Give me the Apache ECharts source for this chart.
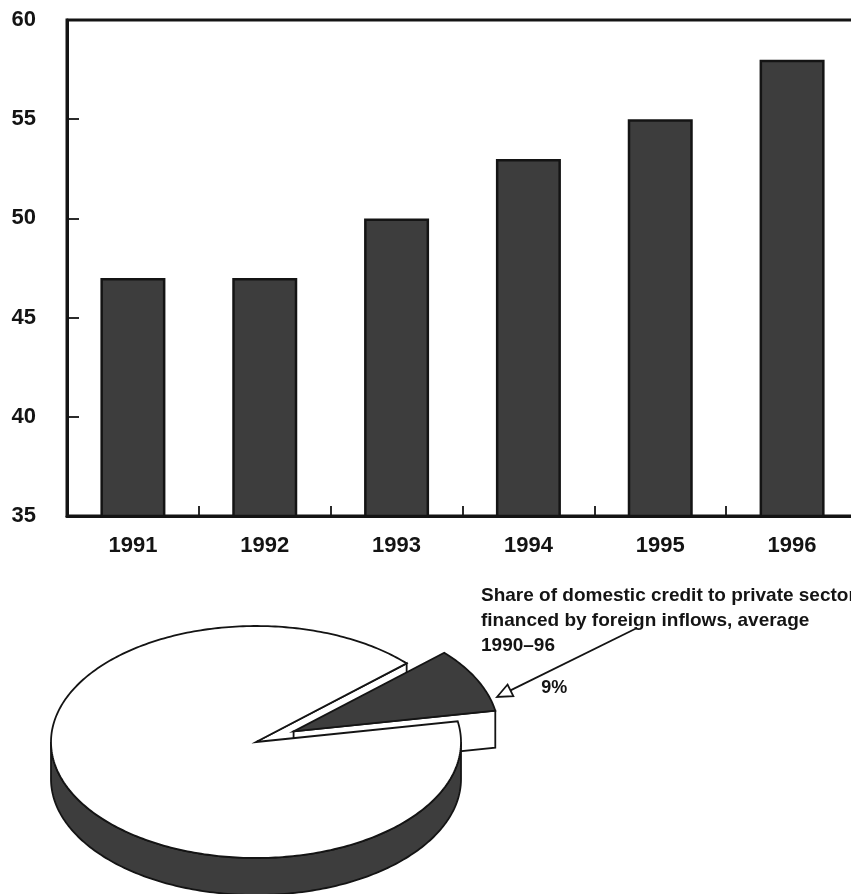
<!DOCTYPE html>
<html>
<head>
<meta charset="utf-8">
<script src="https://cdn.jsdelivr.net/npm/echarts@6/dist/echarts.min.js"></script>
<style>
  html, body { margin: 0; padding: 0; background: #fff; }
  #chart { width: 851px; height: 894px; }
</style>
</head>
<body>
<div id="chart"></div>
<script>
// ---- data ----
const years = ['1991', '1992', '1993', '1994', '1995', '1996'];
const barValues = [47, 47, 50, 53, 55, 58];
const yMin = 35;
const yMax = 60;
const yStep = 5;

const pieNames = ['Financed by foreign inflows', 'Other'];
const pieValues = [9, 91];

const noteLines = [
  'Share of domestic credit to private sector',
  'financed by foreign inflows, average',
  '1990\u201396'
];

// ---- styling ----
const INK = '#141414';
const DARK = '#3d3d3d';
const FONT = "'Liberation Sans', Arial, Helvetica, sans-serif";
const LW = 1.8;

// 3-D pie geometry (screen pixels)
const PIE = { cx: 256, cy: 742, rx: 205, ry: 116, depth: 37, explode: 42, start: 10.3 };
const EXPLODED = 0;
const RAD = Math.PI / 180;

const pieTotal = pieValues.reduce((s, v) => s + v, 0);
const pieSpans = [];
(function () {
  let acc = PIE.start;
  pieValues.forEach(v => {
    const sweep = v / pieTotal * 360;
    pieSpans.push([acc, acc + sweep]);
    acc += sweep;
  });
})();

function ellPt(deg, ox, oy, dz) {
  const r = deg * RAD;
  return [PIE.cx + ox + PIE.rx * Math.cos(r), PIE.cy + oy - PIE.ry * Math.sin(r) + (dz || 0)];
}
function ellArc(a, b, ox, oy, dz) {
  const pts = [];
  const n = Math.max(2, Math.ceil(Math.abs(b - a)));
  for (let i = 0; i <= n; i++) pts.push(ellPt(a + (b - a) * i / n, ox, oy, dz));
  return pts;
}

function renderPieSlice(params, api) {
  const i = params.dataIndex;
  const value = api.value(0);
  const [a, b] = pieSpans[i];
  const exploded = i === EXPLODED;
  const mid = (a + b) / 2 * RAD;
  const ox = exploded ? PIE.explode * Math.cos(mid) : 0;
  const oy = exploded ? -PIE.explode * (PIE.ry / PIE.rx) * Math.sin(mid) : 0;
  const C = [PIE.cx + ox, PIE.cy + oy];
  const D = PIE.depth;
  const zBase = exploded ? 2 : 5;
  const children = [];

  // radial cut faces that turn towards the viewer
  [[a, Math.cos(a * RAD) > 0], [b, Math.cos(b * RAD) < 0]].forEach(([ang, visible]) => {
    if (!visible) return;
    const P = ellPt(ang, ox, oy, 0);
    children.push({
      type: 'polygon', z2: exploded ? 2 : 1,
      shape: { points: [C, P, [P[0], P[1] + D], [C[0], C[1] + D]] },
      style: { fill: '#fff', stroke: INK, lineWidth: LW, lineJoin: 'miter' }
    });
  });

  // curved outer wall on the front half
  const s = Math.max(a, 180), e = Math.min(b, 360);
  if (e > s) {
    const top = ellArc(s, e, ox, oy, 0);
    const bot = ellArc(e, s, ox, oy, D);
    children.push({
      type: 'polygon', z2: zBase + 1,
      shape: { points: top.concat(bot) },
      style: { fill: DARK, stroke: INK, lineWidth: LW }
    });
  }

  // top face
  children.push({
    type: 'polygon', z2: zBase + 2,
    shape: { points: [C].concat(ellArc(a, b, ox, oy, 0)) },
    style: { fill: exploded ? DARK : '#fff', stroke: INK, lineWidth: LW, lineJoin: 'miter' }
  });

  if (exploded) {
    const edge = ellPt(a, ox, oy, 0);
    children.push({
      type: 'text', z2: 10,
      style: {
        x: edge[0] + 46, y: edge[1] - 23,
        text: value + '%',
        fill: INK, font: 'bold 18px ' + FONT,
        textAlign: 'left', textVerticalAlign: 'middle'
      }
    });
  }
  return { type: 'group', children };
}

// annotation arrow (line with an open triangular head)
const arrowFrom = [637, 628];
const arrowTip = [497, 697];
const arrowGraphics = (function () {
  const dx = arrowTip[0] - arrowFrom[0], dy = arrowTip[1] - arrowFrom[1];
  const len = Math.hypot(dx, dy);
  const ux = dx / len, uy = dy / len;
  const hl = 15, hw = 6.5;
  const base = [arrowTip[0] - ux * hl, arrowTip[1] - uy * hl];
  const p1 = [base[0] - uy * hw, base[1] + ux * hw];
  const p2 = [base[0] + uy * hw, base[1] - ux * hw];
  return [
    { type: 'line', z: 50, shape: { x1: arrowFrom[0], y1: arrowFrom[1], x2: base[0], y2: base[1] },
      style: { stroke: INK, lineWidth: 1.8 } },
    { type: 'polygon', z: 50, shape: { points: [arrowTip, p1, p2] },
      style: { fill: '#fff', stroke: INK, lineWidth: 1.8 } }
  ];
})();

const noteGraphics = noteLines.map((t, k) => ({
  type: 'text', z: 50,
  x: 481, y: 596 + k * 25,
  style: { text: t, fill: INK, font: 'bold 19px ' + FONT, textAlign: 'left', textVerticalAlign: 'middle' }
}));

const chart = echarts.init(document.getElementById('chart'), null, { renderer: 'canvas' });
chart.setOption({
  animation: false,
  backgroundColor: '#fff',
  grid: {
    left: 67, width: 791, top: 20, height: 496,
    outerBoundsMode: 'none',
    containLabel: false,
    show: true, borderColor: INK, borderWidth: 3, backgroundColor: 'transparent'
  },
  xAxis: {
    type: 'category',
    data: years,
    boundaryGap: true,
    axisLine: { show: true, lineStyle: { color: INK, width: 3 } },
    axisTick: { show: true, inside: true, length: 10, lineStyle: { color: INK, width: 1.8 } },
    axisLabel: { color: INK, fontFamily: FONT, fontWeight: 'bold', fontSize: 22, margin: 19 },
    splitLine: { show: false }
  },
  yAxis: {
    type: 'value',
    min: yMin, max: yMax, interval: yStep,
    axisLine: { show: true, lineStyle: { color: INK, width: 3 } },
    axisTick: { show: true, inside: true, length: 12, lineStyle: { color: INK, width: 1.8 } },
    axisLabel: { color: INK, fontFamily: FONT, fontWeight: 'bold', fontSize: 22, margin: 31 },
    splitLine: { show: false }
  },
  series: [
    {
      type: 'bar',
      data: barValues,
      barWidth: 65,
      itemStyle: { color: DARK, borderColor: INK, borderWidth: 2.5 }
    },
    {
      type: 'custom',
      coordinateSystem: 'none',
      data: pieValues.map((v, i) => ({ name: pieNames[i], value: [v] })),
      renderItem: renderPieSlice
    }
  ],
  graphic: noteGraphics.concat(arrowGraphics)
});
</script>
</body>
</html>
